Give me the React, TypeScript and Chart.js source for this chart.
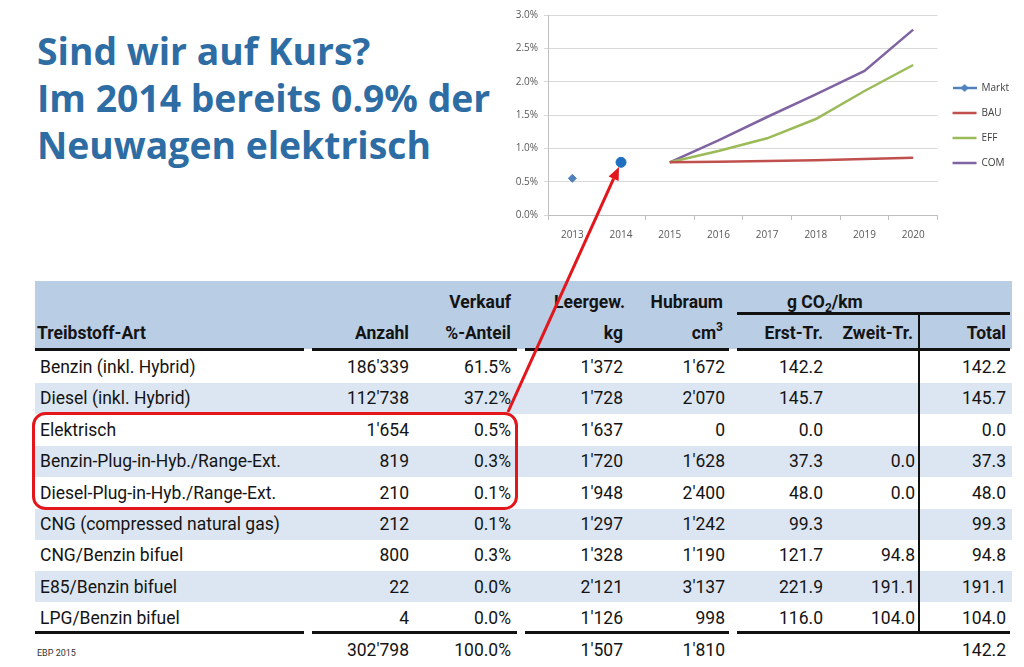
import React, { useEffect, useRef, useState } from 'react';
import { Chart, registerables } from 'chart.js';

Chart.register(...registerables);

// ---- Chart data ----
const years = ['2013', '2014', '2015', '2016', '2017', '2018', '2019', '2020'];
const seriesNames = ['Markt', 'BAU', 'EFF', 'COM'];
const marktValues = [0.55, 0.79, null, null, null, null, null, null];
const bauValues = [null, null, 0.79, 0.8, 0.81, 0.82, 0.84, 0.86];
const effValues = [null, null, 0.79, 0.96, 1.15, 1.44, 1.86, 2.25];
const comValues = [null, null, 0.79, 1.12, 1.47, 1.81, 2.16, 2.78];

// ---- Table data ----
const fuelTypes = [
  'Benzin (inkl. Hybrid)',
  'Diesel (inkl. Hybrid)',
  'Elektrisch',
  'Benzin-Plug-in-Hyb./Range-Ext.',
  'Diesel-Plug-in-Hyb./Range-Ext.',
  'CNG (compressed natural gas)',
  'CNG/Benzin bifuel',
  'E85/Benzin bifuel',
  'LPG/Benzin bifuel',
];
const anzahl = ["186'339", "112'738", "1'654", '819', '210', '212', '800', '22', '4'];
const anteil = ['61.5%', '37.2%', '0.5%', '0.3%', '0.1%', '0.1%', '0.3%', '0.0%', '0.0%'];
const leergewicht = ["1'372", "1'728", "1'637", "1'720", "1'948", "1'297", "1'328", "2'121", "1'126"];
const hubraum = ["1'672", "2'070", '0', "1'628", "2'400", "1'242", "1'190", "3'137", '998'];
const erstTr = ['142.2', '145.7', '0.0', '37.3', '48.0', '99.3', '121.7', '221.9', '116.0'];
const zweitTr = ['', '', '', '0.0', '0.0', '', '94.8', '191.1', '104.0'];
const totalCo2 = ['142.2', '145.7', '0.0', '37.3', '48.0', '99.3', '94.8', '191.1', '104.0'];
const totalsRow = ["302'798", '100.0%', "1'507", "1'810", '', '', '142.2'];

const MARKT = '#4f81bd';
const BAU = '#c0504d';
const EFF = '#9bbb59';
const COM = '#8064a2';
const RED = '#e3161b';

const TABLE_FONT = 'Roboto, "Open Sans", sans-serif';
const colRight = [409, 511, 623, 725, 823, 915, 1006];
const rowCenter = (i: number) => 367 + i * 31.4;

function T(props: { x: number; y: number; right?: boolean; bold?: boolean; size?: number; children: any }) {
  const { x, y, right, bold, size = 17.5, children } = props;
  const style: any = {
    position: 'absolute',
    top: y - 10,
    lineHeight: '20px',
    whiteSpace: 'nowrap',
    fontFamily: TABLE_FONT,
    fontSize: size,
    fontWeight: bold ? 700 : 400,
    color: '#141414',
  };
  if (right) style.right = 1024 - x;
  else style.left = x;
  return <div style={style}>{children}</div>;
}

function Rule(props: { x1: number; x2: number; y: number; h?: number }) {
  const { x1, x2, y, h = 2.5 } = props;
  return <div style={{ position: 'absolute', left: x1, top: y, width: x2 - x1, height: h, background: '#111' }} />;
}

export default function App() {
  const canvasRef = useRef<HTMLCanvasElement | null>(null);
  const boxRef = useRef<HTMLDivElement | null>(null);
  const [tip, setTip] = useState<{ x: number; y: number } | null>(null);

  useEffect(() => {
    const canvas = canvasRef.current!;
    const mk = document.createElement('canvas');
    mk.width = 24;
    mk.height = 10;
    const c = mk.getContext('2d')!;
    c.strokeStyle = MARKT;
    c.lineWidth = 2.5;
    c.beginPath();
    c.moveTo(0, 5);
    c.lineTo(24, 5);
    c.stroke();
    c.fillStyle = MARKT;
    c.beginPath();
    c.moveTo(12, 1);
    c.lineTo(16, 5);
    c.lineTo(12, 9);
    c.lineTo(8, 5);
    c.closePath();
    c.fill();

    const tickFont = { family: '"Open Sans", sans-serif', size: 10 };
    const chart = new Chart(canvas, {
      type: 'line',
      data: {
        labels: years,
        datasets: [
          {
            label: seriesNames[0],
            data: marktValues,
            showLine: false,
            borderColor: MARKT,
            backgroundColor: MARKT,
            pointStyle: ['rectRot', 'circle'] as any,
            pointRadius: [4, 5] as any,
            pointBackgroundColor: [MARKT, '#1f6fc0'] as any,
            pointBorderColor: [MARKT, '#1f6fc0'] as any,
          },
          { label: seriesNames[1], data: bauValues, borderColor: BAU, backgroundColor: BAU, borderWidth: 2.5, pointRadius: 0 },
          { label: seriesNames[2], data: effValues, borderColor: EFF, backgroundColor: EFF, borderWidth: 2.5, pointRadius: 0 },
          { label: seriesNames[3], data: comValues, borderColor: COM, backgroundColor: COM, borderWidth: 2.5, pointRadius: 0 },
        ],
      },
      options: {
        responsive: false,
        animation: false,
        events: [],
        layout: { padding: { top: 15, left: 0, right: 0, bottom: 0 } },
        scales: {
          x: {
            type: 'category',
            offset: true,
            grid: { display: true, drawOnChartArea: false, offset: true, tickLength: 5, color: '#bfbfbf' },
            border: { display: true, color: '#bfbfbf' },
            ticks: { font: tickFont, color: '#595959', padding: 9, maxRotation: 0 },
            afterFit: (s: any) => {
              s.height = 35;
            },
          },
          y: {
            min: 0,
            max: 3,
            ticks: {
              stepSize: 0.5,
              font: tickFont,
              color: '#595959',
              padding: 6,
              callback: (v: any) => Number(v).toFixed(1) + '%',
            },
            grid: { color: '#d9d9d9', tickLength: 4 },
            border: { color: '#bfbfbf' },
            afterFit: (s: any) => {
              s.width = 48;
            },
          },
        },
        plugins: {
          tooltip: { enabled: false },
          legend: {
            display: true,
            position: 'right',
            fullSize: false,
            align: 'center',
            title: { display: true, text: '', padding: { top: 9, bottom: 0 }, font: { size: 10 } },
            labels: {
              usePointStyle: true,
              pointStyleWidth: 24,
              boxHeight: 10,
              padding: 15,
              color: '#404040',
              font: tickFont,
              generateLabels: (ch: any) =>
                ch.data.datasets.map((ds: any, i: number) => ({
                  text: ds.label,
                  fillStyle: ds.borderColor,
                  strokeStyle: ds.borderColor,
                  lineWidth: 2.5,
                  pointStyle: i === 0 ? mk : 'line',
                  hidden: false,
                  datasetIndex: i,
                  fontColor: '#404040',
                })),
            },
          },
        },
      } as any,
    });

    const pt: any = chart.getDatasetMeta(0).data[1];
    const cr = canvas.getBoundingClientRect();
    const br = boxRef.current!.getBoundingClientRect();
    setTip({ x: pt.x + cr.left - br.left, y: pt.y + cr.top - br.top });

    return () => chart.destroy();
  }, []);

  // arrow geometry
  const start = { x: 508, y: 412 };
  let arrow: any = null;
  if (tip) {
    const dx = tip.x - start.x;
    const dy = tip.y - start.y;
    const len = Math.sqrt(dx * dx + dy * dy);
    const ux = dx / len;
    const uy = dy / len;
    const tx = tip.x - ux * 5;
    const ty = tip.y - uy * 5;
    const bx = tx - ux * 13;
    const by = ty - uy * 13;
    const nx = -uy;
    const ny = ux;
    arrow = (
      <g>
        <line x1={start.x} y1={start.y} x2={bx} y2={by} stroke={RED} strokeWidth={3} />
        <polygon points={`${tx},${ty} ${bx + nx * 5.5},${by + ny * 5.5} ${bx - nx * 5.5},${by - ny * 5.5}`} fill={RED} />
      </g>
    );
  }

  const headerCols = [
    { x: colRight[1], y: 302, t: 'Verkauf' },
    { x: colRight[0], y: 333, t: 'Anzahl' },
    { x: colRight[1], y: 333, t: '%-Anteil' },
    { x: 625, y: 302, t: 'Leergew.' },
    { x: colRight[2], y: 333, t: 'kg' },
    { x: 723, y: 302, t: 'Hubraum' },
    { x: 823, y: 333, t: 'Erst-Tr.' },
    { x: 913, y: 333, t: 'Zweit-Tr.' },
    { x: colRight[6], y: 333, t: 'Total' },
  ];

  return (
    <div
      ref={boxRef}
      style={{ position: 'absolute', left: 0, top: 0, width: 1024, height: 667, background: '#fff', overflow: 'hidden' }}
    >
      <div
        style={{
          position: 'absolute',
          left: 37,
          top: 27,
          fontFamily: '"Open Sans", sans-serif',
          fontWeight: 700,
          fontSize: 37.3,
          lineHeight: '47px',
          color: '#2e6ca4',
          whiteSpace: 'nowrap',
        }}
      >
        Sind wir auf Kurs?
        <br />
        Im 2014 bereits 0.9% der
        <br />
        Neuwagen elektrisch
      </div>

      {/* table header band */}
      <div style={{ position: 'absolute', left: 35, top: 281, width: 977, height: 68, background: '#b9cde5' }} />
      {/* stripes */}
      {fuelTypes.map((_, i) =>
        i % 2 === 1 ? (
          <div
            key={'s' + i}
            style={{ position: 'absolute', left: 35, top: rowCenter(i) - 15.5, width: 977, height: 31, background: '#dce6f2' }}
          />
        ) : null
      )}

      {/* header text */}
      <T x={37} y={333} bold>
        Treibstoff-Art
      </T>
      {headerCols.map((h, i) => (
        <T key={'h' + i} x={h.x} y={h.y} right bold>
          {h.t}
        </T>
      ))}
      <T x={723} y={333} right bold>
        <span>
          cm
          <span style={{ position: 'relative', top: -8, fontSize: 12, lineHeight: 0 }}>3</span>
        </span>
      </T>
      <T x={787} y={302} bold>
        <span>
          g CO
          <span style={{ position: 'relative', top: 4, fontSize: 12, lineHeight: 0 }}>2</span>
          /km
        </span>
      </T>

      {/* rules */}
      <Rule x1={737} x2={1010} y={312} />
      <Rule x1={35} x2={304} y={348} />
      <Rule x1={312} x2={517} y={348} />
      <Rule x1={525} x2={729} y={348} />
      <Rule x1={737} x2={1010} y={348} />
      <Rule x1={35} x2={304} y={631} />
      <Rule x1={312} x2={517} y={631} />
      <Rule x1={525} x2={729} y={631} />
      <Rule x1={737} x2={1010} y={631} />
      <div style={{ position: 'absolute', left: 918, top: 313, width: 2, height: 319, background: '#111' }} />

      {/* body rows */}
      {fuelTypes.map((f, i) => (
        <React.Fragment key={'r' + i}>
          <T x={40} y={rowCenter(i)}>
            {f}
          </T>
          <T x={colRight[0]} y={rowCenter(i)} right>
            {anzahl[i]}
          </T>
          <T x={colRight[1]} y={rowCenter(i)} right>
            {anteil[i]}
          </T>
          <T x={colRight[2]} y={rowCenter(i)} right>
            {leergewicht[i]}
          </T>
          <T x={colRight[3]} y={rowCenter(i)} right>
            {hubraum[i]}
          </T>
          <T x={colRight[4]} y={rowCenter(i)} right>
            {erstTr[i]}
          </T>
          <T x={colRight[5]} y={rowCenter(i)} right>
            {zweitTr[i]}
          </T>
          <T x={colRight[6]} y={rowCenter(i)} right>
            {totalCo2[i]}
          </T>
        </React.Fragment>
      ))}
      {totalsRow.map((v, j) =>
        v ? (
          <T key={'t' + j} x={colRight[j]} y={650} right>
            {v}
          </T>
        ) : null
      )}

      <div
        style={{
          position: 'absolute',
          left: 37,
          top: 647,
          fontFamily: TABLE_FONT,
          fontSize: 9,
          lineHeight: '12px',
          color: '#333',
        }}
      >
        EBP 2015
      </div>

      <canvas ref={canvasRef} width={519} height={250} style={{ position: 'absolute', left: 500, top: 0 }} />

      <svg width={1024} height={667} style={{ position: 'absolute', left: 0, top: 0, pointerEvents: 'none' }}>
        <rect x={33.5} y={413.5} width={483} height={95} rx={12} ry={12} fill="none" stroke={RED} strokeWidth={3} />
        {arrow}
      </svg>
    </div>
  );
}
